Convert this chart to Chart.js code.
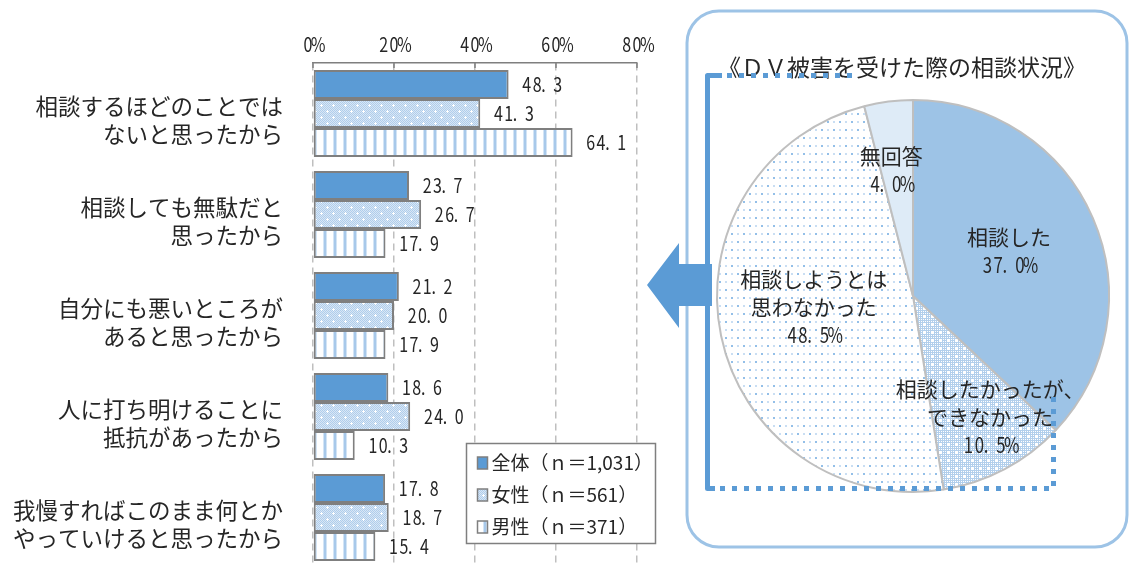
<!DOCTYPE html>
<html lang="ja">
<head>
<meta charset="utf-8">
<title>DV被害を受けた際の相談状況</title>
<script src="https://cdn.jsdelivr.net/npm/chart.js@4.4.1/dist/chart.umd.min.js"></script>
<style>
  html, body { margin: 0; padding: 0; background: #fff; }
  #wrap { position: relative; width: 1129px; height: 563px; overflow: hidden; }
  #barChart { position: absolute; left: 0; top: 0; }
  #pieChart { position: absolute; left: 640px; top: 0; }
</style>
</head>
<body>
<div id="wrap">
  <canvas id="barChart" width="670" height="568"></canvas>
  <canvas id="pieChart" width="489" height="563"></canvas>
</div>
<script>
// 相談しなかった理由（上位5項目）
const reasons = [
  ["相談するほどのことでは", "ないと思ったから"],
  ["相談しても無駄だと", "思ったから"],
  ["自分にも悪いところが", "あると思ったから"],
  ["人に打ち明けることに", "抵抗があったから"],
  ["我慢すればこのまま何とか", "やっていけると思ったから"]
];
const seriesNames = ["全体（ｎ＝1,031）", "女性（ｎ＝561）", "男性（ｎ＝371）"];
const totalValues = [48.3, 23.7, 21.2, 18.6, 17.8];
const femaleValues = [41.3, 26.7, 20.0, 24.0, 18.7];
const maleValues = [64.1, 17.9, 17.9, 10.3, 15.4];
const percentTicks = [0, 20, 40, 60, 80];

// DV被害を受けた際の相談状況
const pieTitle = "《ＤＶ被害を受けた際の相談状況》";
const pieLabels = [["相談した"], ["相談したかったが、", "できなかった"], ["相談しようとは", "思わなかった"], ["無回答"]];
const pieValues = [37.0, 10.5, 48.5, 4.0];

const FONT = '"Noto Sans CJK JP", "Noto Sans", sans-serif';
const TEXT = "#262626";
const BLUE = "#5b9bd5";
const LIGHT = "#9dc3e6";
const EDGE = "#7f7f7f";
const PIE_LEFT = 640;

Chart.defaults.font.family = FONT;
Chart.defaults.color = TEXT;

function makePattern(w, h, paint) {
  const c = document.createElement("canvas");
  c.width = w;
  c.height = h;
  const g = c.getContext("2d");
  paint(g);
  return g.createPattern(c, "repeat");
}

// 女性：細かい網目に白い十字
const femalePattern = makePattern(12, 12, g => {
  g.fillStyle = "#d8e7f6";
  g.fillRect(0, 0, 12, 12);
  g.fillStyle = "#b0cdeb";
  for (let y = 0; y < 12; y++)
    for (let x = 0; x < 12; x++)
      if ((x + y) % 2 === 0) g.fillRect(x, y, 1, 1);
  g.fillStyle = "#ffffff";
  [[3, 3], [9, 9]].forEach(([cx, cy]) => {
    g.fillRect(cx - 1, cy, 3, 1);
    g.fillRect(cx, cy - 1, 1, 3);
  });
});

// 男性：縦じま
const malePattern = makePattern(10, 1, g => {
  g.fillStyle = "#ffffff";
  g.fillRect(0, 0, 10, 1);
  g.fillStyle = "#d3e4f5";
  g.fillRect(3, 0, 1, 1);
  g.fillRect(6, 0, 1, 1);
  g.fillStyle = "#a8c9ea";
  g.fillRect(4, 0, 2, 1);
});

// 円グラフ用の網掛け
const densePattern = makePattern(8, 8, g => {
  g.fillStyle = "#b2cfec";
  g.fillRect(0, 0, 8, 8);
  g.fillStyle = "#ffffff";
  for (let y = 1; y < 8; y += 2)
    for (let x = 1; x < 8; x += 2) g.fillRect(x, y, 1, 1);
  g.fillRect(3, 4, 3, 1);
  g.fillRect(4, 3, 1, 3);
});

const sparsePattern = makePattern(12, 16, g => {
  g.fillStyle = "#ffffff";
  g.fillRect(0, 0, 12, 16);
  g.fillStyle = "#93bfe8";
  g.fillRect(1, 1, 2, 2);
  g.fillRect(7, 9, 2, 2);
  g.fillStyle = "#c9def3";
  g.fillRect(7, 1, 2, 2);
  g.fillRect(1, 9, 2, 2);
});

// 数字は幅の狭い等幅風に描く
function drawNarrow(ctx, text, x, y, size, pitch, align) {
  const w = text.length * pitch;
  const x0 = align === "left" ? x : align === "right" ? x - w : x - w / 2;
  ctx.save();
  ctx.font = size + "px " + FONT;
  ctx.fillStyle = TEXT;
  ctx.textBaseline = "middle";
  for (let i = 0; i < text.length; i++) {
    const ch = text[i];
    ctx.save();
    if (ch === ".") {
      ctx.textAlign = "left";
      ctx.translate(x0 + pitch * i - 1, y);
    } else {
      ctx.textAlign = "center";
      ctx.translate(x0 + pitch * (i + 0.5), y);
    }
    ctx.scale(0.8, 1);
    ctx.fillText(ch, 0, 0);
    ctx.restore();
  }
  ctx.restore();
}

const barDecor = {
  id: "barDecor",
  afterDraw(chart) {
    const ctx = chart.ctx;
    const xs = chart.scales.x;
    const top = chart.chartArea.top;

    // 目盛ラベルと短い目盛線
    ctx.save();
    ctx.strokeStyle = EDGE;
    ctx.lineWidth = 1.5;
    percentTicks.forEach(v => {
      const px = xs.getPixelForValue(v);
      ctx.beginPath();
      ctx.moveTo(px, top);
      ctx.lineTo(px, top + 5);
      ctx.stroke();
      drawNarrow(ctx, v + "%", px, 44, 20, 10.3, "center");
    });
    ctx.restore();

    // 値ラベル
    chart.data.datasets.forEach((ds, di) => {
      chart.getDatasetMeta(di).data.forEach((bar, i) => {
        drawNarrow(ctx, ds.data[i].toFixed(1), bar.x + 13, bar.y, 20, 10.3, "left");
      });
    });

    // 凡例
    const box = { x: 466.5, y: 443.5, w: 189, h: 100 };
    ctx.save();
    ctx.fillStyle = "#ffffff";
    ctx.fillRect(box.x, box.y, box.w, box.h);
    ctx.strokeStyle = EDGE;
    ctx.lineWidth = 1.5;
    ctx.strokeRect(box.x, box.y, box.w, box.h);
    chart.data.datasets.forEach((ds, i) => {
      const ry = box.y + 19.5 + i * 32;
      ctx.fillStyle = ds.backgroundColor;
      ctx.fillRect(box.x + 11, ry - 6, 10, 12);
      ctx.strokeStyle = EDGE;
      ctx.lineWidth = 1.5;
      ctx.strokeRect(box.x + 11, ry - 6, 10, 12);
      ctx.fillStyle = TEXT;
      ctx.font = "19px " + FONT;
      ctx.textAlign = "left";
      ctx.textBaseline = "middle";
      ctx.fillText(ds.label, box.x + 25, ry);
    });
    ctx.restore();
  }
};

const barStyle = { borderColor: EDGE, borderWidth: 2, borderSkipped: false, barPercentage: 1, categoryPercentage: 0.86 };

new Chart(document.getElementById("barChart"), {
  type: "bar",
  data: {
    labels: reasons,
    datasets: [
      { label: seriesNames[0], data: totalValues, backgroundColor: BLUE, ...barStyle },
      { label: seriesNames[1], data: femaleValues, backgroundColor: femalePattern, ...barStyle },
      { label: seriesNames[2], data: maleValues, backgroundColor: malePattern, ...barStyle }
    ]
  },
  options: {
    indexAxis: "y",
    responsive: false,
    animation: false,
    layout: { padding: { left: 0, right: 33, top: 0, bottom: 0 } },
    plugins: { legend: { display: false }, tooltip: { enabled: false } },
    scales: {
      x: {
        position: "top",
        min: 0,
        max: 80,
        ticks: { stepSize: 20, display: false },
        grid: { color: "#bfbfbf", lineWidth: 1.5, drawTicks: false },
        border: { display: true, color: EDGE, width: 1.5, dash: [7, 5] },
        afterFit: s => { s.height = 63; s.paddingLeft = 0; s.paddingRight = 0; }
      },
      y: {
        ticks: { color: TEXT, font: { size: 22.5, lineHeight: 1.22 }, padding: 30, labelOffset: 7 },
        grid: { display: false, drawTicks: false },
        border: { display: false },
        afterFit: s => { s.width = 313; s.paddingTop = 0; s.paddingBottom = 0; }
      }
    }
  },
  plugins: [barDecor]
});

// 円グラフのラベル位置（中心角のずれ[度]と半径比）
const pieLabelPlacement = [
  { r: 0.54, turn: -1.5 },
  { r: 0.73, turn: -4.7 },
  { r: 0.51, turn: 5.1 },
  { r: 0.65, turn: -2.6 }
];

const pieDecor = {
  id: "pieDecor",
  beforeDraw(chart) {
    const ctx = chart.ctx;
    ctx.save();
    ctx.translate(-PIE_LEFT, 0);
    ctx.strokeStyle = LIGHT;
    ctx.lineWidth = 3;
    ctx.beginPath();
    ctx.roundRect(687, 11, 440, 536, 32);
    ctx.stroke();
    ctx.restore();
  },
  afterDraw(chart) {
    const ctx = chart.ctx;
    ctx.save();
    ctx.translate(-PIE_LEFT, 0);

    // 見出し
    ctx.fillStyle = TEXT;
    ctx.font = "23px " + FONT;
    ctx.textAlign = "center";
    ctx.textBaseline = "middle";
    ctx.fillText(pieTitle, 902, 67);

    // 各区分のラベル
    chart.getDatasetMeta(0).data.forEach((arc, i) => {
      const p = arc.getProps(["x", "y", "startAngle", "endAngle", "outerRadius"], true);
      const place = pieLabelPlacement[i];
      const a = (p.startAngle + p.endAngle) / 2 + place.turn * Math.PI / 180;
      const cx = p.x + PIE_LEFT + Math.cos(a) * p.outerRadius * place.r;
      const cy = p.y + Math.sin(a) * p.outerRadius * place.r;
      const lines = pieLabels[i];
      const n = lines.length + 1;
      const step = 28;
      const y0 = cy - (n - 1) * step / 2;
      ctx.font = "21px " + FONT;
      ctx.fillStyle = TEXT;
      lines.forEach((t, k) => ctx.fillText(t, cx, y0 + k * step));
      drawNarrow(ctx, pieValues[i].toFixed(1) + "%", cx, y0 + lines.length * step, 21, 10.8, "center");
    });

    // 左向きの矢印と囲み線
    ctx.strokeStyle = BLUE;
    ctx.lineWidth = 5;
    ctx.lineJoin = "round";
    ctx.beginPath();
    ctx.moveTo(722, 75.5);
    ctx.lineTo(707.5, 75.5);
    ctx.lineTo(707.5, 488.5);
    ctx.lineTo(715, 488.5);
    ctx.stroke();

    ctx.setLineDash([5, 7]);
    ctx.lineJoin = "miter";
    ctx.beginPath();
    ctx.moveTo(727, 75.5);
    ctx.lineTo(853, 75.5);
    ctx.moveTo(720, 488.5);
    ctx.lineTo(1053.5, 488.5);
    ctx.lineTo(1053.5, 396);
    ctx.stroke();
    ctx.setLineDash([]);

    ctx.fillStyle = BLUE;
    ctx.beginPath();
    ctx.moveTo(647, 285);
    ctx.lineTo(679, 243);
    ctx.lineTo(679, 264);
    ctx.lineTo(712, 264);
    ctx.lineTo(712, 306);
    ctx.lineTo(679, 306);
    ctx.lineTo(679, 328);
    ctx.closePath();
    ctx.fill();

    ctx.restore();
  }
};

new Chart(document.getElementById("pieChart"), {
  type: "pie",
  data: {
    labels: pieLabels.map(l => l.join("")),
    datasets: [{
      data: pieValues,
      backgroundColor: [LIGHT, densePattern, sparsePattern, "#deebf7"],
      borderColor: "#bfbfbf",
      borderWidth: 2
    }]
  },
  options: {
    responsive: false,
    animation: false,
    layout: { padding: { left: 76, right: 19, top: 99, bottom: 70 } },
    plugins: { legend: { display: false }, tooltip: { enabled: false } }
  },
  plugins: [pieDecor]
});
</script>
</body>
</html>
